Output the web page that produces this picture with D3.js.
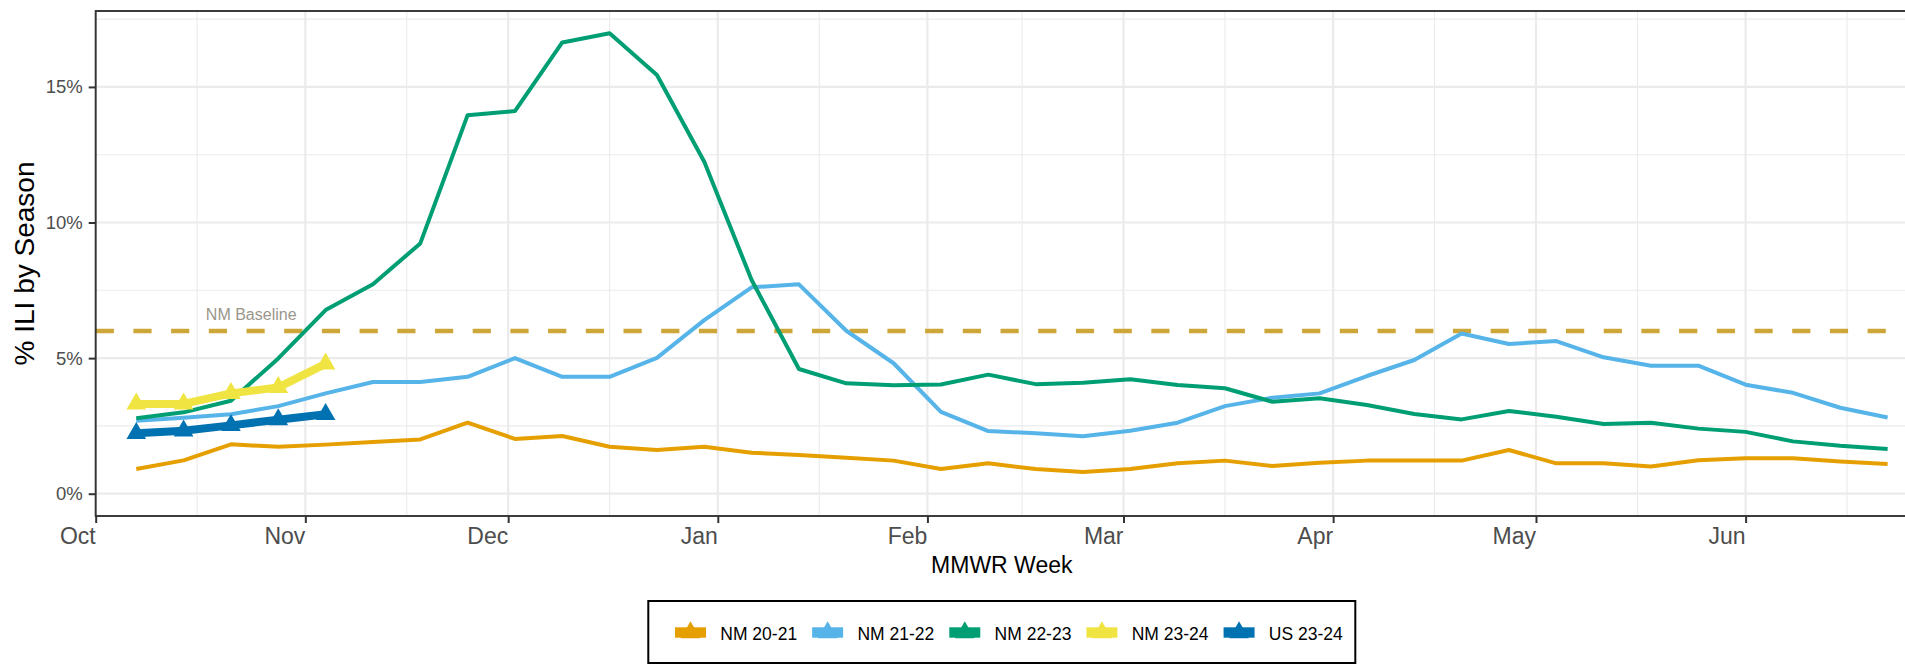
<!DOCTYPE html>
<html><head><meta charset="utf-8">
<script src="https://cdn.jsdelivr.net/npm/d3@7"></script>
<style>
body{margin:0;background:#fff;}
svg{display:block;font-family:"Liberation Sans",Arial,Helvetica,sans-serif;}
</style>
</head><body>
<svg id="chart" width="1905" height="664"></svg>
<script>
// ---------- DATA ----------
const weekDates = [
  "2023-10-07","2023-10-14","2023-10-21","2023-10-28",
  "2023-11-04","2023-11-11","2023-11-18","2023-11-25",
  "2023-12-02","2023-12-09","2023-12-16","2023-12-23","2023-12-30",
  "2024-01-06","2024-01-13","2024-01-20","2024-01-27",
  "2024-02-03","2024-02-10","2024-02-17","2024-02-24",
  "2024-03-02","2024-03-09","2024-03-16","2024-03-23","2024-03-30",
  "2024-04-06","2024-04-13","2024-04-20","2024-04-27",
  "2024-05-04","2024-05-11","2024-05-18","2024-05-25",
  "2024-06-01","2024-06-08","2024-06-15","2024-06-22"
];
const seriesNames  = ["NM 20-21","NM 21-22","NM 22-23","NM 23-24","US 23-24"];
const seriesColors = ["#E69F00","#56B4E9","#009E73","#F0E442","#0072B2"];

const nm2021 = [0.91,1.23,1.82,1.73,1.81,1.91,2.00,2.62,2.02,2.13,1.73,1.61,1.73,1.51,1.43,1.33,1.22,0.91,1.12,0.91,0.80,0.91,1.12,1.22,1.02,1.14,1.22,1.22,1.22,1.61,1.12,1.12,1.00,1.23,1.31,1.31,1.19,1.10];
const nm2122 = [2.69,2.80,2.93,3.23,3.70,4.12,4.12,4.31,5.00,4.31,4.31,5.01,6.40,7.61,7.72,6.01,4.81,3.02,2.31,2.23,2.12,2.32,2.62,3.23,3.54,3.70,4.34,4.93,5.91,5.52,5.63,5.03,4.72,4.72,4.02,3.72,3.17,2.81];
const nm2223 = [2.78,3.00,3.43,4.99,6.77,7.72,9.23,13.96,14.11,16.64,16.98,15.44,12.24,7.88,4.60,4.07,4.00,4.03,4.39,4.04,4.09,4.22,4.01,3.89,3.39,3.52,3.27,2.94,2.74,3.05,2.84,2.57,2.62,2.40,2.28,1.93,1.77,1.65];
const nm2324 = [3.31,3.31,3.70,3.92,4.79];
const us2324 = [2.23,2.32,2.52,2.73,2.93];

const baselineValue = 6;
const baselineLabel = "NM Baseline";
const baselineLabelDate = "2023-10-24";

const yTickValues = [0,5,10,15];
const yTickLabels = ["0%","5%","10%","15%"];
const yMinorTicks = [2.5,7.5,12.5,17.5];
const monthTickDates = ["2023-10-01","2023-11-01","2023-12-01","2024-01-01","2024-02-01","2024-03-01","2024-04-01","2024-05-01","2024-06-01"];
const monthLabels = ["Oct","Nov","Dec","Jan","Feb","Mar","Apr","May","Jun"];
const monthMinorDates = ["2023-10-16","2023-11-16","2023-12-16","2024-01-16","2024-02-15","2024-03-16","2024-04-16","2024-05-16","2024-06-16"];
const xDomain = ["2023-10-01","2024-06-25"];
const yDomain = [-0.822, 17.80];

const xTitle = "MMWR Week";
const yTitle = "% ILI by Season";

// ---------- SETUP ----------
const parse = d3.utcParse("%Y-%m-%d");
const svg = d3.select("#chart");
const P = {left:95.7, right:1907.9, top:11, bottom:516};

const x = d3.scaleUtc().domain(xDomain.map(parse)).range([P.left, P.right]);
const y = d3.scaleLinear().domain(yDomain).range([P.bottom, P.top]);

const allSeries = [nm2021, nm2122, nm2223, nm2324, us2324].map((vals, i) => ({
  name: seriesNames[i],
  color: seriesColors[i],
  thick: i >= 3,
  values: vals.map((v, j) => ({date: parse(weekDates[j]), v}))
}));

svg.append("defs").append("clipPath").attr("id","clip")
  .append("rect").attr("x",P.left).attr("y",P.top)
  .attr("width",P.right-P.left).attr("height",P.bottom-P.top);

const grid = svg.append("g");
// minor grid
grid.selectAll(".hmin").data(yMinorTicks).join("line")
  .attr("x1",P.left).attr("x2",P.right)
  .attr("y1",d=>y(d)).attr("y2",d=>y(d))
  .attr("stroke","#EBEBEB").attr("stroke-width",1.1);
grid.selectAll(".vmin").data(monthMinorDates.map(parse)).join("line")
  .attr("y1",P.top).attr("y2",P.bottom)
  .attr("x1",d=>x(d)).attr("x2",d=>x(d))
  .attr("stroke","#EBEBEB").attr("stroke-width",1.1);
// major grid
grid.selectAll(".hmaj").data(yTickValues).join("line")
  .attr("x1",P.left).attr("x2",P.right)
  .attr("y1",d=>y(d)).attr("y2",d=>y(d))
  .attr("stroke","#EBEBEB").attr("stroke-width",2.2);
grid.selectAll(".vmaj").data(monthTickDates.map(parse)).join("line")
  .attr("y1",P.top).attr("y2",P.bottom)
  .attr("x1",d=>x(d)).attr("x2",d=>x(d))
  .attr("stroke","#EBEBEB").attr("stroke-width",2.2);

const plot = svg.append("g").attr("clip-path","url(#clip)");

// baseline
plot.append("line")
  .attr("x1",P.left).attr("x2",P.right)
  .attr("y1",y(baselineValue)).attr("y2",y(baselineValue))
  .attr("stroke","#CDA63A").attr("stroke-width",4.3)
  .attr("stroke-dasharray","18.2 19.5");

svg.append("text")
  .attr("x", x(parse(baselineLabelDate)))
  .attr("y", y(baselineValue) - 11)
  .attr("text-anchor","middle")
  .attr("font-size",16).attr("fill","#9A968A")
  .text(baselineLabel);

// lines
const line = d3.line().x(d=>x(d.date)).y(d=>y(d.v));
plot.selectAll(".series").data(allSeries).join("path")
  .attr("d", d=>line(d.values))
  .attr("fill","none")
  .attr("stroke", d=>d.color)
  .attr("stroke-width", d=>d.thick ? 8 : 4)
  .attr("stroke-linejoin","round");

// points (triangles) on current season series
const tri = d3.symbol().type(d3.symbolTriangle).size(167);
allSeries.filter(s=>s.thick).forEach(s=>{
  plot.selectAll(null).data(s.values).join("path")
    .attr("d", tri)
    .attr("transform", d=>`translate(${x(d.date)},${y(d.v)})`)
    .attr("fill", s.color);
});

// panel border
svg.append("rect")
  .attr("x",P.left).attr("y",P.top)
  .attr("width",P.right-P.left).attr("height",P.bottom-P.top)
  .attr("fill","none").attr("stroke","#333333").attr("stroke-width",1.9);

// axes
const xAxis = d3.axisBottom(x)
  .tickValues(monthTickDates.map(parse))
  .tickFormat((d,i)=>monthLabels[i])
  .tickSize(7);
const gx = svg.append("g").attr("transform",`translate(0,${P.bottom})`).call(xAxis);
gx.select(".domain").remove();
gx.selectAll(".tick line").attr("stroke","#333333").attr("stroke-width",2);
gx.selectAll(".tick text")
  .attr("y",28).attr("dy",0).attr("x",-0.5)
  .attr("text-anchor","end")
  .attr("font-size",23).attr("fill","#4D4D4D")
  .attr("font-family",'"Liberation Sans",Arial,sans-serif');

const yAxis = d3.axisLeft(y)
  .tickValues(yTickValues)
  .tickFormat((d,i)=>yTickLabels[i])
  .tickSize(7).tickPadding(6);
const gy = svg.append("g").attr("transform",`translate(${P.left},0)`).call(yAxis);
gy.select(".domain").remove();
gy.selectAll(".tick line").attr("stroke","#333333").attr("stroke-width",2);
gy.selectAll(".tick text")
  .attr("font-size",18.5).attr("fill","#4D4D4D")
  .attr("font-family",'"Liberation Sans",Arial,sans-serif');

// titles
svg.append("text")
  .attr("x",(P.left+P.right)/2).attr("y",572.5)
  .attr("text-anchor","middle").attr("font-size",23).attr("fill","#000")
  .text(xTitle);
svg.append("text")
  .attr("transform",`translate(34,${(P.top+P.bottom)/2}) rotate(-90)`)
  .attr("text-anchor","middle").attr("font-size",28).attr("fill","#000")
  .text(yTitle);

// legend
const lg = svg.append("g");
const legBox = lg.append("rect")
  .attr("y",601).attr("height",62)
  .attr("fill","#fff").attr("stroke","#000").attr("stroke-width",2);
const keyW = 31, textOff = 45.3, itemGap = 15, padL = 26.7, padR = 12.5;
let cx = 0;
const items = [];
allSeries.forEach(s=>{
  const g = lg.append("g");
  g.append("line").attr("x1",cx).attr("x2",cx+keyW)
    .attr("y1",632.5).attr("y2",632.5)
    .attr("stroke",s.color).attr("stroke-width",10.4);
  g.append("path").attr("d",tri)
    .attr("transform",`translate(${cx+keyW/2},632.5)`)
    .attr("fill",s.color);
  const t = g.append("text").attr("x",cx+textOff).attr("y",639.6)
    .attr("font-size",17.5).attr("fill","#000").text(s.name);
  const w = t.node().getComputedTextLength();
  cx = cx + textOff + w + itemGap;
  items.push(g);
});
const totalW = cx - itemGap;
const boxW = padL + totalW + padR;
const boxX = (P.left+P.right)/2 - boxW/2;
legBox.attr("x",boxX).attr("width",boxW);
items.forEach(g=>g.attr("transform",`translate(${boxX+padL},0)`));
</script>
</body></html>
